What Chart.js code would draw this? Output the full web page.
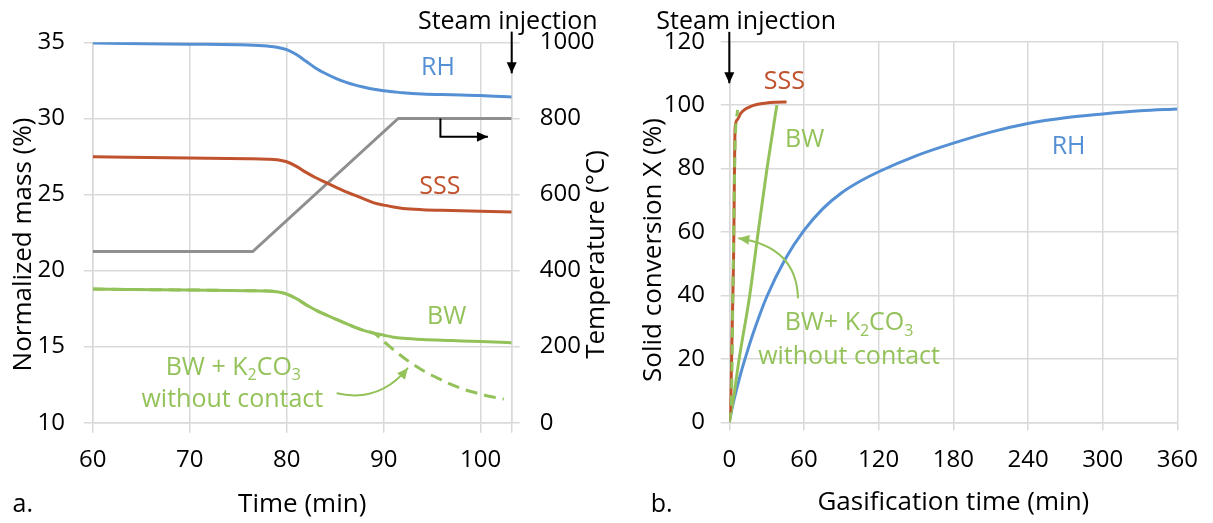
<!DOCTYPE html>
<html>
<head>
<meta charset="utf-8">
<script src="https://cdn.jsdelivr.net/npm/chart.js@4.4.1/dist/chart.umd.min.js"></script>
<style>
  body { margin: 0; background: #fff; }
  #wrap { position: relative; width: 1213px; height: 523px; }
  canvas { position: absolute; top: 0; }
</style>
</head>
<body>
<div id="wrap">
  <canvas id="chartA" width="620" height="523" style="left:0"></canvas>
  <canvas id="chartB" width="593" height="523" style="left:620px"></canvas>
</div>
<script>
// ---- panel a: mass loss during heating ----
const timeA = [60, 70, 76, 78, 79, 80, 81, 82, 83, 84, 85, 86, 87, 88, 89, 90, 91, 92, 94, 97, 100, 103.2];
const massRH = [34.95, 34.88, 34.82, 34.75, 34.68, 34.52, 34.2, 33.75, 33.3, 32.95, 32.65, 32.4, 32.2, 32.05, 31.92, 31.82, 31.75, 31.68, 31.6, 31.55, 31.5, 31.4];
const massSSS = [27.48, 27.4, 27.35, 27.32, 27.28, 27.15, 26.85, 26.45, 26.1, 25.8, 25.5, 25.2, 24.95, 24.7, 24.45, 24.3, 24.18, 24.08, 24.0, 23.95, 23.9, 23.84];
const massBW = [18.78, 18.72, 18.68, 18.66, 18.6, 18.45, 18.15, 17.75, 17.4, 17.1, 16.82, 16.55, 16.28, 16.05, 15.88, 15.75, 15.62, 15.55, 15.47, 15.4, 15.33, 15.26];
const timeBWK = [60, 70, 76, 78, 79, 80, 81, 82, 83, 84, 85, 86, 87, 88, 89, 90, 91, 92, 93, 94, 95, 96, 97, 98, 99, 100, 101, 102.4];
const massBWK = [18.78, 18.72, 18.68, 18.66, 18.6, 18.45, 18.15, 17.75, 17.4, 17.1, 16.82, 16.55, 16.28, 16.05, 15.88, 15.35, 14.8, 14.3, 13.85, 13.45, 13.1, 12.8, 12.5, 12.25, 12.05, 11.88, 11.72, 11.55];
const timeTemp = [60, 76.5, 91.5, 103.2];
const temperature = [450, 450, 800, 800];
const xTicksA = [60, 70, 80, 90, 100];
const xMaxA = 103.2;

// ---- panel b: solid conversion during gasification ----
const timeRH_B = [0, 2, 5, 10, 15, 20, 30, 45, 60, 75, 90, 105, 120, 150, 180, 210, 240, 270, 300, 330, 360];
const convRH = [0, 4, 9, 16.5, 23, 29, 39.5, 51.5, 60.5, 67.3, 72.3, 76, 79, 84, 88, 91.5, 94.2, 96, 97.2, 98.2, 98.8];
const timeSSS_B = [0, 1.3, 3.4, 4.7, 6.6, 9, 12, 16, 22, 30, 38, 46];
const convSSS = [0, 9, 51, 93, 95.5, 97.3, 98.5, 99.4, 100.2, 100.7, 100.9, 101];
const timeBW_B = [0, 3.9, 7.9, 16.4, 23.2, 30.3, 38.2];
const convBW = [0, 9, 20, 40, 60, 80, 100];
const timeBWK_B = [0, 1.8, 3.2, 4.7, 6.6];
const convBWK = [0, 9, 51, 88, 98.5];
const xTicksB = [0, 60, 120, 180, 240, 300, 360];

const font = '"Open Sans", sans-serif';
const blue = '#5590d4', red = '#c0522d', green = '#94c25a', gray = '#8f8f8f', gridColor = '#d9d9d9';

function pts(xs, ys) {
  return xs.map((x, i) => ({ x: x, y: ys[i] }));
}

function line(label, data, color, extra) {
  return Object.assign({
    label: label, data: data, borderColor: color, borderWidth: 3,
    pointRadius: 0, fill: false, cubicInterpolationMode: 'monotone'
  }, extra || {});
}

// text and arrows
function text(ctx, s, x, y, color, size, align) {
  ctx.font = size + 'px ' + font;
  ctx.fillStyle = color;
  ctx.textAlign = align || 'center';
  ctx.textBaseline = 'middle';
  ctx.fillText(s, x, y);
}

function upText(ctx, s, x, y, size) {
  ctx.save();
  ctx.translate(x, y);
  ctx.rotate(-Math.PI / 2);
  text(ctx, s, 0, 0, '#000', size);
  ctx.restore();
}

function chem(ctx, parts, cx, cy, color, size) {
  const big = size + 'px ' + font, small = Math.round(size * 0.62) + 'px ' + font;
  let w = 0;
  parts.forEach(p => { ctx.font = /^\d$/.test(p) ? small : big; w += ctx.measureText(p).width; });
  let x = cx - w / 2;
  ctx.fillStyle = color;
  ctx.textAlign = 'left';
  ctx.textBaseline = 'middle';
  parts.forEach(p => {
    const sub = /^\d$/.test(p);
    ctx.font = sub ? small : big;
    ctx.fillText(p, x, sub ? cy + size * 0.32 : cy);
    x += ctx.measureText(p).width;
  });
}

function head(ctx, fx, fy, tx, ty, color) {
  const a = Math.atan2(ty - fy, tx - fx), len = 11, half = 5;
  ctx.fillStyle = color;
  ctx.beginPath();
  ctx.moveTo(tx, ty);
  ctx.lineTo(tx - len * Math.cos(a) + half * Math.sin(a), ty - len * Math.sin(a) - half * Math.cos(a));
  ctx.lineTo(tx - len * Math.cos(a) - half * Math.sin(a), ty - len * Math.sin(a) + half * Math.cos(a));
  ctx.closePath();
  ctx.fill();
}

function polyArrow(ctx, p, color) {
  ctx.strokeStyle = color;
  ctx.lineWidth = 2;
  ctx.beginPath();
  ctx.moveTo(p[0][0], p[0][1]);
  for (let i = 1; i < p.length; i++) ctx.lineTo(p[i][0], p[i][1]);
  ctx.stroke();
  const n = p.length;
  head(ctx, p[n - 2][0], p[n - 2][1], p[n - 1][0], p[n - 1][1], color);
}

function curveArrow(ctx, a, c, b, color) {
  ctx.strokeStyle = color;
  ctx.lineWidth = 2;
  ctx.beginPath();
  ctx.moveTo(a[0], a[1]);
  ctx.quadraticCurveTo(c[0], c[1], b[0], b[1]);
  ctx.stroke();
  head(ctx, c[0], c[1], b[0], b[1], color);
}

const notesA = {
  id: 'notesA',
  afterDraw(chart) {
    const ctx = chart.ctx, x = chart.scales.x, y = chart.scales.y, t = chart.scales.y1;
    const X = v => x.getPixelForValue(v), Y = v => y.getPixelForValue(v), T = v => t.getPixelForValue(v);
    const mid = (y.top + y.bottom) / 2;
    ctx.save();
    text(ctx, 'RH', X(95.6), Y(33.29), blue, 25);
    text(ctx, 'SSS', X(95.8), Y(25.5), red, 25);
    text(ctx, 'BW', X(96.5), Y(16.95), green, 25);
    chem(ctx, ['BW + K', '2', 'CO', '3'], X(74.5), Y(13.6), green, 25);
    text(ctx, 'without contact', X(74.4), Y(11.5), green, 25);
    curveArrow(ctx, [X(85.15), Y(11.93)], [X(89.6), Y(11.3)], [X(92.5), Y(13.6)], green);
    text(ctx, 'Steam injection', X(102.8), Y(36.36), '#000', 25);
    polyArrow(ctx, [[X(xMaxA), Y(35.7)], [X(xMaxA), Y(32.96)]], '#000');
    polyArrow(ctx, [[X(95.85), T(800)], [X(95.85), T(752)], [X(100.75), T(752)]], '#000');
    // axis titles, both reading upwards
    upText(ctx, 'Normalized mass (%)', 24, mid + 12, 26);
    upText(ctx, 'Temperature (°C)', t.right - 23, mid + 22, 26);
    text(ctx, 'a.', 22.8, 505, '#000', 25);
    ctx.restore();
  }
};

const notesB = {
  id: 'notesB',
  afterDraw(chart) {
    const ctx = chart.ctx, x = chart.scales.x, y = chart.scales.y;
    const X = v => x.getPixelForValue(v), Y = v => y.getPixelForValue(v);
    ctx.save();
    text(ctx, 'Steam injection', X(13.6), Y(126.3), '#000', 25);
    polyArrow(ctx, [[X(0), Y(123.1)], [X(0), Y(106.9)]], '#000');
    text(ctx, 'SSS', X(44.2), Y(107.4), red, 25);
    text(ctx, 'BW', X(60.6), Y(89), green, 25);
    text(ctx, 'RH', X(272.6), Y(86.8), blue, 25);
    chem(ctx, ['BW+ K', '2', 'CO', '3'], X(96.2), Y(31.3), green, 25);
    text(ctx, 'without contact', X(96.2), Y(20.7), green, 25);
    curveArrow(ctx, [X(55.2), Y(39.1)], [X(54), Y(55.4)], [X(7.2), Y(58)], green);
    upText(ctx, 'Solid conversion X (%)', 34, (y.top + y.bottom) / 2 + 18, 26);
    text(ctx, 'b.', 41.6, 505, '#000', 25);
    ctx.restore();
  }
};

const tickFont = { family: font, size: 24 };
const titleFont = { family: font, size: 26 };

new Chart(document.getElementById('chartA'), {
  type: 'line',
  data: {
    datasets: [
      line('BW + K2CO3', pts(timeBWK, massBWK), green, { borderDash: [12, 7] }),
      line('RH', pts(timeA, massRH), blue),
      line('SSS', pts(timeA, massSSS), red),
      line('BW', pts(timeA, massBW), green),
      line('Temperature', pts(timeTemp, temperature), gray, { yAxisID: 'y1', cubicInterpolationMode: 'default', tension: 0 })
    ]
  },
  options: {
    responsive: false, animation: false, devicePixelRatio: 1,
    layout: { padding: { top: 42.3, left: 0, right: 0, bottom: 0 } },
    plugins: { legend: { display: false }, tooltip: { enabled: false } },
    scales: {
      x: {
        type: 'linear', min: 60, max: xMaxA,
        afterBuildTicks: s => { s.ticks = xTicksA.concat([xMaxA]).map(v => ({ value: v })); },
        ticks: { autoSkip: false, maxRotation: 0, font: tickFont, color: '#000', padding: 13,
                 callback: v => xTicksA.includes(v) ? '' + v : '' },
        grid: { color: gridColor, lineWidth: 1.5, tickLength: 10 },
        border: { color: gridColor, width: 1.5 },
        title: { display: true, text: 'Time (min)', font: titleFont, color: '#000', padding: { top: 0, bottom: 3 } },
        afterFit: s => { s.height = 100.3; }
      },
      y: {
        position: 'left', min: 10, max: 35,
        ticks: { stepSize: 5, font: tickFont, color: '#000', padding: 18.7, callback: v => '' + v },
        grid: { color: gridColor, lineWidth: 1.5, tickLength: 9 },
        border: { color: gridColor, width: 1.5 },
        afterFit: s => { s.width = 92.7; }
      },
      y1: {
        position: 'right', min: 0, max: 1000,
        ticks: { stepSize: 200, font: tickFont, color: '#000', padding: 20, callback: v => '' + v },
        grid: { drawOnChartArea: false, color: gridColor, lineWidth: 1.5, tickLength: 8 },
        border: { color: gridColor, width: 1.5 },
        afterFit: s => { s.width = 108.3; }
      }
    }
  },
  plugins: [notesA]
});

new Chart(document.getElementById('chartB'), {
  type: 'line',
  data: {
    datasets: [
      line('BW + K2CO3', pts(timeBWK_B, convBWK), green, { borderDash: [10, 7] }),
      line('SSS', pts(timeSSS_B, convSSS), red),
      line('BW', pts(timeBW_B, convBW), green),
      line('RH', pts(timeRH_B, convRH), blue)
    ]
  },
  options: {
    responsive: false, animation: false, devicePixelRatio: 1,
    layout: { padding: { top: 41.7, left: 0, right: 33, bottom: 0 } },
    plugins: { legend: { display: false }, tooltip: { enabled: false } },
    scales: {
      x: {
        type: 'linear', min: 0, max: 360,
        afterBuildTicks: s => { s.ticks = xTicksB.map(v => ({ value: v })); },
        ticks: { autoSkip: false, maxRotation: 0, font: tickFont, color: '#000', padding: 15, callback: v => '' + v },
        grid: { color: gridColor, lineWidth: 1.5, tickLength: 8 },
        border: { color: gridColor, width: 1.5 },
        title: { display: true, text: 'Gasification time (min)', font: titleFont, color: '#000', padding: { top: 0, bottom: 5 } },
        afterFit: s => { s.height = 100.7; }
      },
      y: {
        position: 'left', min: 0, max: 120,
        ticks: { stepSize: 20, font: tickFont, color: '#000', padding: 15.7, callback: v => '' + v },
        grid: { color: gridColor, lineWidth: 1.5, tickLength: 8.6 },
        border: { color: gridColor, width: 1.5 },
        afterFit: s => { s.width = 109.3; }
      }
    }
  },
  plugins: [notesB]
});
</script>
</body>
</html>
